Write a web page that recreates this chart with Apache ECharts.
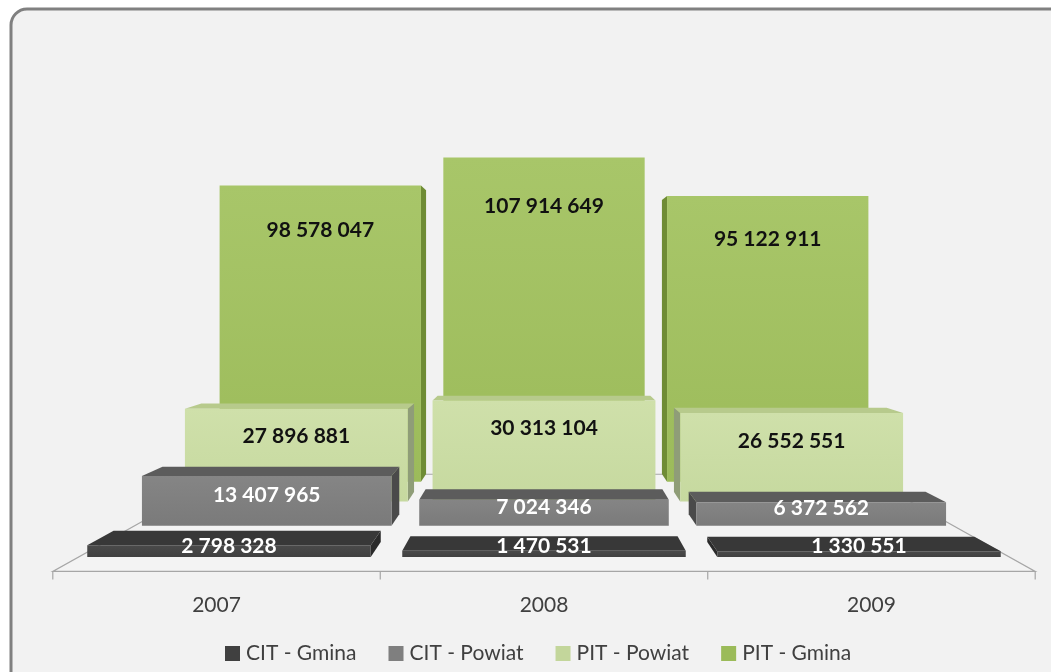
<!DOCTYPE html>
<html>
<head>
<meta charset="utf-8">
<script src="https://cdn.jsdelivr.net/npm/echarts@6/dist/echarts.min.js"></script>
<style>
  html, body { margin: 0; padding: 0; background: #fff; }
  #chart { width: 1051px; height: 672px; }
</style>
</head>
<body>
<div id="chart"></div>
<script>
const years = ['2007', '2008', '2009'];
const citGmina = [2798328, 1470531, 1330551];
const citPowiat = [13407965, 7024346, 6372562];
const pitPowiat = [27896881, 30313104, 26552551];
const pitGmina = [98578047, 107914649, 95122911];

// simple perspective: vanishing point + depth factor per row
const VX = 544, VY = 297, K = 0.136, DEPTH = 0.45;
const FONT = 'Lato, "Open Sans", sans-serif';

function proj(x, y, z) {
    const s = 1 / (1 + K * z);
    return [VX + (x - VX) * s, VY + (y - VY) * s];
}

function fmt(v) {
    return String(v).replace(/\B(?=(\d{3})+(?!\d))/g, ' ');
}

function poly(points, fill) {
    return { type: 'polygon', shape: { points: points }, style: { fill: fill } };
}

// rows drawn back to front
const rows = [
    {
        name: 'PIT - Gmina', data: pitGmina, z: 3,
        color: '#9bbb59', front: ['#a8c669', '#9cbb5a'], top: '#b5d07e', side: '#6f8c35',
        text: '#111', labelY: function (p) { return p.valY(0.85); }
    },
    {
        name: 'PIT - Powiat', data: pitPowiat, z: 2,
        color: '#c3d69b', front: ['#cfe0aa', '#c6d99f'], top: '#b7ca8c', side: '#8f9d78',
        text: '#111', labelY: function (p) { return p.top + 28; }
    },
    {
        name: 'CIT - Powiat', data: citPowiat, z: 1,
        color: '#7f7f7f', front: ['#858585', '#7a7a7a'], top: '#5c5c5c', side: '#4a4a4a',
        text: '#fff', labelY: function (p) { return (p.top + p.bottom) / 2 - 6; }
    },
    {
        name: 'CIT - Gmina', data: citGmina, z: 0,
        color: '#404040', front: ['#4a4a4a', '#404040'], top: '#383838', side: '#2a2a2a',
        text: '#fff', labelY: function (p) { return p.bottom - 11; }
    }
];

function barRenderer(row) {
    return function (params, api) {
        const i = api.value(0), v = api.value(1);
        const b = api.coord([i, 0]);
        const t = api.coord([i, v]);
        const w = api.size([1, 0])[0] * 0.9;
        const x0 = b[0] - w / 2, x1 = b[0] + w / 2, y0 = b[1], y1 = t[1];
        const zf = row.z, zb = row.z + DEPTH;
        const kids = [];
        if (x1 < VX) {
            kids.push(poly([proj(x1, y1, zf), proj(x1, y1, zb), proj(x1, y0, zb), proj(x1, y0, zf)], row.side));
        }
        if (x0 > VX) {
            kids.push(poly([proj(x0, y1, zf), proj(x0, y1, zb), proj(x0, y0, zb), proj(x0, y0, zf)], row.side));
        }
        if (y1 > VY) {
            kids.push(poly([proj(x0, y1, zf), proj(x1, y1, zf), proj(x1, y1, zb), proj(x0, y1, zb)], row.top));
        }
        const fTL = proj(x0, y1, zf), fBR = proj(x1, y0, zf);
        kids.push({
            type: 'polygon',
            shape: { points: [fTL, proj(x1, y1, zf), fBR, proj(x0, y0, zf)] },
            style: {
                fill: new echarts.graphic.LinearGradient(0, 0, 0, 1, [
                    { offset: 0, color: row.front[0] },
                    { offset: 1, color: row.front[1] }
                ])
            }
        });
        const info = {
            top: fTL[1],
            bottom: fBR[1],
            valY: function (f) { return proj(x0, api.coord([i, v * f])[1], zf)[1]; }
        };
        kids.push({
            type: 'text',
            style: {
                x: (fTL[0] + fBR[0]) / 2,
                y: row.labelY(info),
                text: fmt(v),
                fill: row.text,
                font: 'bold 21px ' + FONT,
                align: 'center',
                verticalAlign: 'middle'
            }
        });
        return { type: 'group', children: kids };
    };
}

function floorRenderer(params, api) {
    const cs = params.coordSys;
    const base = api.coord([0, 0])[1] + 4;
    const gx0 = cs.x, gx1 = cs.x + cs.width;
    const zF = -0.28, zB = 3.6;
    const kids = [];
    kids.push({
        type: 'polygon',
        shape: { points: [proj(gx0, base, zF), proj(gx1, base, zF), proj(gx1, base, zB), proj(gx0, base, zB)] },
        style: { fill: '#f3f3f3', stroke: '#a6a6a6', lineWidth: 1.2 }
    });
    const n = years.length;
    for (let j = 0; j <= n; j++) {
        const p = proj(gx0 + j * cs.width / n, base, zF);
        kids.push({
            type: 'line',
            shape: { x1: p[0], y1: p[1], x2: p[0], y2: p[1] + 8 },
            style: { stroke: '#a6a6a6', lineWidth: 1.2 }
        });
    }
    for (let j = 0; j < n; j++) {
        const c = api.coord([j, 0])[0];
        const p = proj(c, base, zF);
        kids.push({
            type: 'text',
            style: {
                x: p[0], y: p[1] + 34, text: years[j],
                fill: '#404040', font: '21px ' + FONT,
                align: 'center', verticalAlign: 'middle'
            }
        });
    }
    return { type: 'group', children: kids };
}

const chart = echarts.init(document.getElementById('chart'));

const series = [{
    type: 'custom',
    name: 'floor',
    silent: true,
    renderItem: floorRenderer,
    data: [[0, 0]],
    z: 1
}];
rows.forEach(function (row) {
    series.push({
        type: 'custom',
        name: row.name,
        itemStyle: { color: row.color },
        renderItem: barRenderer(row),
        data: row.data.map(function (v, i) { return [i, v]; }),
        z: 2
    });
});

chart.setOption({
    backgroundColor: '#ffffff',
    animation: false,
    graphic: [{
        type: 'rect',
        shape: { x: 11, y: 9, width: 1080, height: 700, r: 16 },
        style: { fill: '#f2f2f2', stroke: '#808080', lineWidth: 3 },
        z: -10
    }],
    grid: { left: 71.5, right: 34.5, top: 49.4, bottom: 115 },
    xAxis: {
        type: 'category',
        data: years,
        show: false
    },
    yAxis: {
        type: 'value',
        min: 0,
        max: 120000000,
        show: false
    },
    legend: {
        data: ['CIT - Gmina', 'CIT - Powiat', 'PIT - Powiat', 'PIT - Gmina'],
        left: 220,
        top: 638,
        icon: 'rect',
        itemWidth: 15,
        itemHeight: 15,
        itemGap: 32,
        textStyle: { color: '#404040', fontSize: 21, fontFamily: FONT, padding: [0, 0, 0, 1] }
    },
    series: series
});
</script>
</body>
</html>
